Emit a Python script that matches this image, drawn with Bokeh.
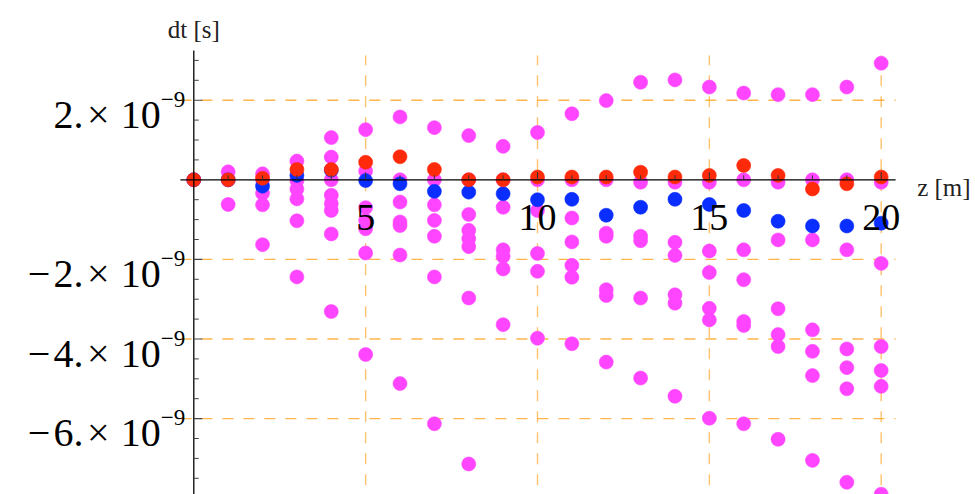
from bokeh.plotting import figure
from bokeh.models import Range1d, Label
from bokeh.embed import file_html
from bokeh.resources import INLINE

# ---- data (dt in units of 1e-9 s) ----
Z = list(range(0, 21))
MAGENTA = [
    [0.0],
    [0.2, 0.0, -0.62],
    [0.15, 0.0, -0.34, -0.63, -1.63],
    [0.47, -0.02, -0.23, -0.48, -1.03, -2.44],
    [1.06, 0.57, 0.0, -0.39, -0.6, -0.77, -1.36, -3.31],
    [1.26, 0.22, -0.7, -1.02, -1.23, -1.84, -4.39],
    [1.58, 0.0, -0.56, -1.06, -1.15, -1.89, -5.12],
    [1.31, 0.0, -0.63, -1.02, -1.42, -2.44, -6.13],
    [1.11, 0.0, -0.87, -1.27, -1.48, -1.68, -2.97, -7.14],
    [0.84, 0.0, -0.69, -1.76, -1.92, -2.24, -3.64],
    [1.19, 0.0, -0.77, -1.85, -2.3, -3.98],
    [1.66, 0.0, -0.96, -1.56, -2.15, -2.45, -4.12],
    [1.99, 0.0, -1.34, -1.42, -2.76, -2.91, -4.58],
    [2.45, -0.06, -1.42, -1.53, -2.97, -4.98],
    [2.51, -0.06, -1.57, -1.9, -2.89, -3.1, -5.44],
    [2.33, -0.06, -1.79, -2.33, -3.23, -3.52, -5.99],
    [2.18, 0.0, -1.76, -2.51, -3.56, -3.66, -6.13],
    [2.14, -0.06, -1.51, -3.24, -3.89, -4.19, -6.52],
    [2.14, 0.0, -1.51, -3.77, -4.31, -4.92, -7.05],
    [2.33, 0.0, -1.76, -4.25, -4.72, -5.25, -7.6],
    [2.93, -0.06, -2.1, -4.19, -4.79, -5.19, -7.9],
]
BLUE = [0.0, 0.0, -0.16, 0.11, 0.24, -0.02, -0.1, -0.29, -0.31, -0.35, -0.5,
        -0.49, -0.89, -0.69, -0.49, -0.62, -0.77, -1.04, -1.16, -1.16, -1.09]
RED = [0.0, 0.0, 0.04, 0.26, 0.26, 0.44, 0.58, 0.26, 0.0, 0.0, 0.07,
       0.07, 0.07, 0.19, 0.07, 0.11, 0.36, 0.11, -0.23, -0.1, 0.07]

X_MAJOR = [5, 10, 15, 20]
X_MINOR = [z for z in range(1, 21) if z not in X_MAJOR]
Y_MAJOR = [-6, -4, -2, 2]
Y_MINOR = [k * 0.5 for k in range(-15, 7) if k * 0.5 not in Y_MAJOR and k != 0]
EXPONENT = -9
X_LABEL = "z [m]"
Y_LABEL = "dt [s]"

# ---- layout ----
W, H = 975, 494
XS, XE = -5.624, 22.744
YS, YE = -7.907, 4.505
PX_X = W / (XE - XS)
PX_Y = H / (YE - YS)
PR_X0, PR_X1 = -0.39, 20.42     # plot range (axes / grid extents)
PR_Y0, PR_Y1 = -8.2, 3.25
GRID_TOP = 3.12

SERIF = "Liberation Serif"
GRID_COL = "#FFA21F"

p = figure(width=W, height=H, output_backend="svg", toolbar_location=None,
           x_range=Range1d(XS, XE), y_range=Range1d(YS, YE),
           x_axis_location=None, y_axis_location=None,
           min_border=0, outline_line_color=None)
p.grid.visible = False
p.background_fill_color = "white"

# grid lines
p.segment(x0=X_MAJOR, y0=PR_Y0, x1=X_MAJOR, y1=GRID_TOP,
          line_color=GRID_COL, line_alpha=0.65, line_width=1.4, line_dash="11 10")
p.segment(x0=PR_X0, y0=Y_MAJOR, x1=PR_X1, y1=Y_MAJOR,
          line_color=GRID_COL, line_alpha=0.8, line_width=1.4, line_dash="11 10")

# points
mx = [z for z, col in zip(Z, MAGENTA) for _ in col]
my = [v for col in MAGENTA for v in col]
p.scatter(mx, my, size=14, fill_color="#FF45FF", line_color="#FF45FF", line_width=0.6)
p.scatter(Z, BLUE, size=14, fill_color="#0A2EFF", line_color="#0A2EFF", line_width=0.6)
p.scatter(Z, RED, size=14, fill_color="#FF2A0A", line_color="#FF2A0A", line_width=0.6)

# axes lines
p.segment(x0=[PR_X0], y0=[0], x1=[PR_X1], y1=[0], line_color="black", line_width=1.3)
p.segment(x0=[0], y0=[PR_Y0], x1=[0], y1=[PR_Y1], line_color="black", line_width=1.3)

# ticks
p.segment(x0=X_MAJOR, y0=0, x1=X_MAJOR, y1=7.5 / PX_Y, line_color="#333333", line_width=1.1)
p.segment(x0=X_MINOR, y0=0, x1=X_MINOR, y1=4.5 / PX_Y, line_color="#333333", line_width=1.0)
p.segment(x0=0, y0=Y_MAJOR, x1=8.5 / PX_X, y1=Y_MAJOR, line_color="#444444", line_width=1.1)
p.segment(x0=0, y0=Y_MINOR, x1=5.0 / PX_X, y1=Y_MINOR, line_color="#444444", line_width=1.0)

# y tick labels (mantissa x 10^exp)
for t in Y_MAJOR:
    sign = "−\u200a" if t < 0 else ""
    p.add_layout(Label(x=0, y=t, x_offset=-33, y_offset=-14,
                       text=f"{sign}{abs(t)}.\u200a×\u2009\u200a10", text_align="right",
                       text_baseline="alphabetic", text_font=SERIF,
                       text_font_size="40px", text_color="black"))
    p.add_layout(Label(x=0, y=t, x_offset=-33, y_offset=1,
                       text=f"−{abs(EXPONENT)}", text_align="left",
                       text_baseline="alphabetic", text_font=SERIF,
                       text_font_size="23px", text_color="black"))

# x tick labels
for t in X_MAJOR:
    p.add_layout(Label(x=t, y=0, y_offset=-38, text=str(t), text_align="center",
                       text_baseline="alphabetic", text_font=SERIF,
                       text_font_size="38px", text_color="black"))

# axis labels
p.add_layout(Label(x=0, y=0, y_offset=150, text=Y_LABEL, text_align="center",
                   text_baseline="alphabetic", text_font=SERIF,
                   text_font_size="25px", text_color="#222222"))
p.add_layout(Label(x=X_MAJOR[-1], y=0, x_offset=36, y_offset=-8, text=X_LABEL,
                   text_align="left", text_baseline="alphabetic", text_font=SERIF,
                   text_font_size="25px", text_color="#222222"))

open("out.html", "w").write(file_html(p, INLINE))
